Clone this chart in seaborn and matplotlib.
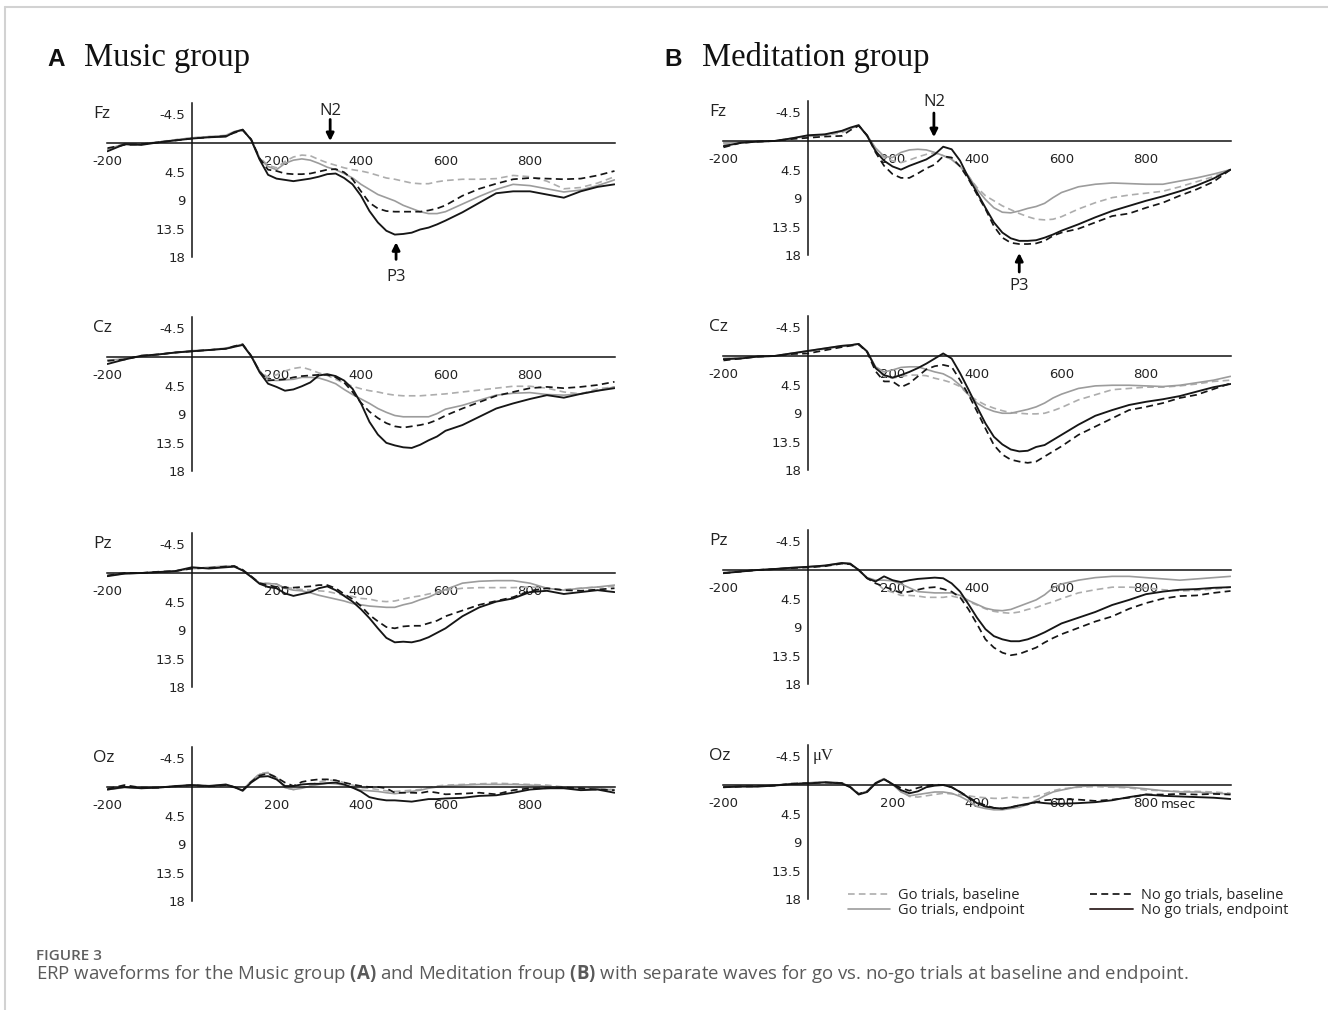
import numpy as np
import pandas as pd
import seaborn as sns
import matplotlib.pyplot as plt
from matplotlib.lines import Line2D

# time points (ms) shared by every waveform
times = [-200, -160, -120, -80, -40, 0, 40, 80, 100, 120, 140, 160,
         180, 200, 220, 240, 260, 280, 300, 320, 340, 360, 380, 400, 420, 440, 460, 480, 500, 520, 540, 560, 580, 600,
         640, 680, 720, 760, 800, 840, 880, 920, 960, 1000]

conds = ["Go trials, baseline", "Go trials, endpoint", "No go trials, baseline", "No go trials, endpoint"]

# ---- Music group (A), microvolts, positive plotted downwards ----
a_fz_gb = [1.0, 0.3, 0.2, -0.2, -0.5, -0.8, -1.0, -1.1, -1.7, -2.0, -0.6, 2.3,
           3.5, 3.9, 2.9, 2.2, 1.9, 2.0, 2.6, 3.1, 3.5, 3.9, 4.2, 4.4, 4.7, 5.1, 5.5, 5.7, 6.0, 6.3, 6.4, 6.4, 6.1, 5.9,
           5.7, 5.7, 5.6, 5.1, 5.3, 6.0, 7.2, 7.0, 6.3, 5.3]
a_fz_ge = [1.0, 0.1, 0.2, -0.1, -0.5, -0.8, -1.0, -1.2, -1.8, -2.1, -0.5, 2.5,
           3.7, 4.2, 3.2, 2.7, 2.5, 2.7, 3.2, 3.8, 4.2, 4.8, 5.5, 6.5, 7.3, 8.1, 8.6, 9.1, 9.8, 10.3, 10.8, 11.1, 11.1, 10.8,
           9.6, 8.4, 7.3, 6.5, 6.7, 7.2, 7.7, 7.4, 6.7, 5.8]
a_fz_nb = [0.8, 0.3, 0.2, -0.1, -0.4, -0.7, -0.9, -1.1, -1.6, -2.0, -0.6, 2.4,
           4.2, 4.4, 4.8, 4.9, 4.9, 4.8, 4.5, 4.2, 4.1, 4.6, 5.7, 7.6, 9.4, 10.3, 10.7, 10.8, 10.8, 10.8, 10.8, 10.6, 10.3, 9.8,
           8.3, 7.2, 6.4, 5.7, 5.5, 5.6, 5.7, 5.6, 5.1, 4.4]
a_fz_ne = [1.3, 0.2, 0.3, -0.1, -0.4, -0.7, -0.9, -1.0, -1.7, -2.1, -0.5, 2.6,
           5.0, 5.6, 5.8, 6.0, 5.8, 5.6, 5.3, 4.9, 4.8, 5.5, 6.5, 8.3, 10.7, 12.5, 13.8, 14.4, 14.3, 14.1, 13.6, 13.3, 12.8, 12.2,
           10.9, 9.4, 7.9, 7.6, 7.6, 8.1, 8.6, 7.6, 6.9, 6.5]

a_cz_gb = [0.6, 0.3, -0.1, -0.4, -0.7, -0.9, -1.1, -1.3, -1.6, -1.9, -0.2, 2.2,
           3.2, 2.8, 2.2, 1.8, 1.6, 2.0, 2.5, 2.9, 3.5, 4.1, 4.6, 5.0, 5.3, 5.5, 5.8, 6.0, 6.1, 6.1, 6.1, 6.0, 5.9, 5.8,
           5.5, 5.2, 4.9, 4.6, 4.6, 4.9, 5.5, 5.8, 5.0, 4.7]
a_cz_ge = [0.5, 0.3, -0.1, -0.4, -0.7, -1.0, -1.1, -1.4, -1.7, -2.0, -0.2, 2.2,
           3.6, 3.7, 3.6, 3.5, 3.2, 3.2, 3.3, 3.7, 4.2, 5.1, 5.9, 6.6, 7.3, 8.1, 8.7, 9.2, 9.4, 9.4, 9.4, 9.4, 8.9, 8.2,
           7.6, 6.8, 6.0, 5.7, 5.6, 5.9, 6.0, 5.8, 5.3, 4.7]
a_cz_nb = [0.6, 0.4, -0.2, -0.4, -0.7, -0.9, -1.1, -1.3, -1.7, -2.0, -0.2, 2.3,
           3.7, 3.6, 3.5, 3.2, 3.0, 2.9, 2.8, 2.8, 3.2, 4.0, 5.5, 7.2, 8.6, 9.6, 10.4, 10.9, 11.1, 10.9, 10.7, 10.4, 9.9, 9.2,
           8.1, 7.1, 6.1, 5.5, 4.9, 4.7, 4.9, 4.7, 4.4, 3.9]
a_cz_ne = [1.1, 0.4, -0.2, -0.4, -0.7, -0.9, -1.1, -1.3, -1.6, -1.9, -0.15, 2.4,
           4.2, 4.7, 5.3, 5.1, 4.6, 4.0, 2.9, 2.7, 3.0, 3.7, 5.0, 7.3, 10.2, 12.2, 13.5, 13.9, 14.2, 14.3, 13.8, 13.1, 12.5, 11.6,
           10.7, 9.4, 8.1, 7.3, 6.6, 6.0, 6.4, 5.8, 5.3, 4.9]

a_pz_gb = [0.4, 0.1, 0.0, -0.1, -0.3, -0.7, -0.8, -1.0, -1.0, -0.4, 0.6, 1.6,
           1.6, 1.8, 2.3, 2.4, 2.6, 2.7, 2.8, 2.9, 3.2, 3.5, 3.7, 4.0, 4.1, 4.4, 4.5, 4.4, 4.1, 3.8, 3.6, 3.3, 3.0, 2.7,
           2.4, 2.3, 2.3, 2.3, 2.2, 2.4, 2.6, 2.4, 2.2, 2.1]
a_pz_ge = [0.4, 0.1, 0.0, -0.1, -0.3, -0.7, -0.9, -1.1, -1.1, -0.4, 0.6, 1.6,
           1.7, 1.7, 2.4, 2.7, 2.8, 3.1, 3.5, 3.8, 4.1, 4.4, 4.8, 5.0, 5.2, 5.3, 5.4, 5.4, 5.0, 4.7, 4.2, 3.8, 3.2, 2.6,
           1.6, 1.3, 1.2, 1.2, 1.6, 2.4, 2.7, 2.4, 2.2, 1.9]
a_pz_nb = [0.4, 0.0, 0.0, -0.2, -0.3, -0.7, -0.8, -1.0, -1.1, -0.5, 0.5, 1.6,
           1.9, 2.2, 2.3, 2.3, 2.2, 2.1, 1.9, 1.9, 2.4, 3.3, 4.1, 5.2, 6.6, 7.6, 8.5, 8.7, 8.4, 8.3, 8.3, 7.9, 7.5, 6.8,
           5.9, 5.0, 4.4, 3.8, 2.8, 2.4, 2.7, 2.8, 2.6, 2.4]
a_pz_ne = [0.5, 0.1, 0.0, -0.15, -0.3, -0.9, -0.7, -0.9, -1.0, -0.4, 0.6, 1.7,
           2.2, 2.4, 3.2, 3.6, 3.3, 3.0, 2.4, 2.1, 2.7, 3.6, 4.5, 5.7, 7.1, 8.7, 10.2, 10.9, 10.8, 10.9, 10.6, 10.1, 9.4, 8.7,
           6.8, 5.4, 4.5, 4.0, 3.0, 2.8, 3.3, 3.0, 2.7, 3.0]

a_oz_gb = [0.4, 0.0, 0.2, 0.1, -0.1, -0.3, -0.2, -0.3, 0.0, 0.5, -0.9, -2.1,
           -2.3, -1.5, 0.1, 0.4, 0.1, -0.3, -0.8, -1.05, -1.05, -0.7, -0.3, 0.1, 0.2, 0.4, 0.6, 0.7, 0.6, 0.5, 0.4, 0.1, -0.15, -0.3,
           -0.4, -0.5, -0.6, -0.5, -0.4, -0.3, 0.0, 0.2, 0.2, 0.4]
a_oz_ge = [0.4, 0.1, 0.2, 0.1, -0.1, -0.3, -0.2, -0.3, 0.1, 0.5, -0.9, -2.0,
           -2.2, -1.4, 0.1, 0.4, 0.2, -0.15, -0.4, -0.6, -0.5, -0.3, 0.1, 0.5, 0.6, 0.7, 0.9, 1.05, 0.9, 0.7, 0.5, 0.2, 0.0, -0.15,
           -0.3, -0.4, -0.4, -0.4, -0.3, -0.1, 0.1, 0.4, 0.2, 0.5]
a_oz_nb = [0.3, -0.3, 0.1, 0.1, -0.1, -0.3, -0.1, -0.3, 0.0, 0.5, -0.8, -1.8,
           -2.1, -1.5, -0.7, -0.15, -0.8, -1.05, -1.2, -1.2, -1.05, -0.7, -0.4, -0.15, 0.0, 0.0, 0.2, 0.9, 0.9, 0.9, 0.95, 0.7, 0.9, 1.15,
           1.05, 0.9, 1.15, 0.5, 0.2, 0.2, 0.1, 0.2, 0.4, 0.5]
a_oz_ne = [0.4, 0.0, 0.2, 0.1, -0.15, -0.3, -0.15, -0.4, 0.0, 0.6, -0.7, -1.6,
           -1.7, -1.2, -0.15, -0.15, -0.4, -0.5, -0.5, -0.6, -0.7, -0.4, 0.1, 0.7, 1.6, 1.9, 2.1, 2.1, 2.2, 2.3, 2.1, 1.9, 1.9, 1.8,
           1.7, 1.4, 1.3, 0.9, 0.4, 0.2, 0.2, 0.5, 0.4, 0.9]

# ---- Meditation group (B) ----
b_fz_gb = [0.5, 0.3, 0.1, 0.0, -0.4, -0.7, -0.9, -1.3, -2.0, -2.4, -0.8, 1.3,
           2.6, 3.1, 3.4, 3.0, 2.5, 2.1, 1.9, 2.3, 2.9, 4.0, 5.6, 7.3, 8.6, 9.4, 10.2, 10.8, 11.4, 11.9, 12.3, 12.4, 12.3, 11.9,
           10.7, 9.7, 8.9, 8.5, 8.2, 7.9, 7.2, 6.4, 5.6, 4.5]
b_fz_ge = [0.3, 0.2, 0.1, 0.0, -0.4, -0.8, -1.0, -1.5, -2.0, -2.4, -0.9, 1.1,
           2.4, 2.6, 1.8, 1.4, 1.3, 1.4, 1.8, 2.3, 2.9, 4.0, 5.5, 7.6, 9.2, 10.5, 11.2, 11.3, 11.0, 10.6, 10.3, 9.8, 8.9, 8.1,
           7.2, 6.8, 6.6, 6.7, 6.8, 6.8, 6.3, 5.8, 5.2, 4.5]
b_fz_nb = [1.0, 0.3, 0.1, 0.0, -0.3, -0.5, -0.7, -0.8, -1.7, -2.4, -0.9, 1.8,
           3.9, 5.2, 5.8, 5.8, 5.1, 4.3, 3.7, 2.4, 2.6, 4.0, 6.0, 8.4, 10.7, 13.4, 15.2, 16.0, 16.2, 16.2, 16.1, 15.7, 14.9, 14.4,
           13.8, 12.8, 11.8, 11.4, 10.5, 9.7, 8.6, 7.6, 6.4, 4.5]
b_fz_ne = [0.8, 0.3, 0.1, 0.0, -0.4, -0.9, -1.05, -1.6, -2.1, -2.5, -0.8, 1.6,
           3.1, 4.0, 4.5, 3.9, 3.4, 2.9, 2.1, 0.9, 1.3, 3.1, 5.8, 8.1, 10.5, 12.8, 14.4, 15.3, 15.7, 15.7, 15.6, 15.2, 14.7, 14.1,
           13.1, 12.0, 11.0, 10.2, 9.4, 8.7, 7.9, 7.0, 5.9, 4.5]

b_cz_gb = [0.4, 0.3, 0.1, 0.0, -0.4, -0.7, -1.1, -1.5, -1.7, -1.9, -0.7, 1.9,
           3.2, 3.5, 3.2, 3.0, 3.0, 3.1, 3.5, 3.8, 4.2, 4.8, 6.1, 7.0, 7.7, 8.2, 8.6, 8.9, 9.0, 9.1, 9.1, 9.0, 8.6, 8.1,
           6.9, 6.1, 5.3, 5.1, 4.9, 4.9, 4.7, 4.4, 4.0, 3.8]
b_cz_ge = [0.4, 0.3, 0.1, 0.0, -0.4, -0.8, -1.2, -1.6, -1.7, -1.9, -0.7, 1.7,
           2.5, 2.2, 1.8, 1.7, 1.7, 2.1, 2.5, 2.8, 3.5, 4.6, 6.1, 7.4, 8.2, 8.7, 9.0, 9.0, 8.7, 8.4, 8.0, 7.4, 6.6, 6.0,
           5.1, 4.7, 4.6, 4.6, 4.7, 4.8, 4.6, 4.2, 3.8, 3.2]
b_cz_nb = [0.7, 0.4, 0.1, 0.0, -0.3, -0.4, -0.9, -1.4, -1.6, -1.8, -0.6, 2.4,
           4.0, 4.0, 4.9, 4.3, 3.2, 2.1, 1.6, 1.4, 1.7, 3.8, 6.1, 8.7, 11.4, 14.0, 15.5, 16.3, 16.6, 16.8, 16.6, 15.8, 15.0, 14.2,
           12.4, 11.1, 9.8, 8.5, 8.0, 7.4, 6.6, 6.1, 5.2, 4.3]
b_cz_ne = [0.5, 0.4, 0.1, 0.0, -0.4, -0.8, -1.2, -1.6, -1.7, -1.9, -0.7, 1.9,
           3.0, 3.4, 3.0, 2.5, 1.9, 1.2, 0.4, -0.4, 0.4, 2.7, 5.3, 8.0, 10.6, 12.7, 13.9, 14.7, 15.0, 14.9, 14.3, 14.0, 13.2, 12.4,
           10.8, 9.4, 8.5, 7.7, 7.2, 6.8, 6.3, 5.6, 4.9, 4.4]

b_pz_gb = [0.5, 0.25, 0.0, -0.1, -0.3, -0.5, -0.6, -1.0, -0.9, 0.0, 1.2, 1.9,
           3.1, 3.5, 4.0, 4.0, 4.1, 4.3, 4.3, 4.3, 4.1, 4.4, 5.0, 5.5, 6.1, 6.5, 6.7, 6.8, 6.6, 6.2, 5.9, 5.4, 5.0, 4.5,
           3.6, 3.1, 2.7, 2.7, 2.8, 3.1, 3.3, 3.2, 3.0, 2.7]
b_pz_ge = [0.4, 0.2, 0.0, -0.15, -0.35, -0.5, -0.7, -1.1, -1.0, 0.0, 1.2, 1.6,
           1.6, 1.7, 2.2, 2.8, 3.4, 3.5, 3.6, 3.6, 3.6, 4.0, 4.8, 5.4, 6.0, 6.3, 6.4, 6.2, 5.7, 5.2, 4.7, 3.9, 2.8, 2.2,
           1.6, 1.2, 1.0, 1.0, 1.2, 1.4, 1.6, 1.4, 1.2, 1.0]
b_pz_nb = [0.5, 0.25, 0.0, -0.15, -0.3, -0.4, -0.6, -1.0, -0.9, 0.0, 1.3, 2.1,
           2.6, 3.1, 3.6, 3.4, 3.1, 2.8, 2.7, 3.0, 3.4, 4.3, 6.2, 8.5, 10.9, 12.2, 13.0, 13.4, 13.2, 12.7, 12.2, 11.4, 10.7, 10.1,
           9.1, 8.1, 7.3, 6.1, 5.2, 4.5, 4.1, 4.0, 3.6, 3.3]
b_pz_ne = [0.5, 0.25, 0.0, -0.15, -0.35, -0.5, -0.7, -1.1, -1.0, 0.0, 1.3, 1.8,
           1.0, 1.6, 1.9, 1.6, 1.4, 1.3, 1.2, 1.3, 2.1, 3.4, 5.4, 7.5, 9.3, 10.4, 10.9, 11.2, 11.2, 10.9, 10.4, 9.8, 9.1, 8.4,
           7.5, 6.6, 5.5, 4.7, 3.8, 3.4, 3.1, 3.0, 2.8, 2.7]

b_oz_gb = [0.3, 0.2, 0.2, 0.05, -0.2, -0.35, -0.5, -0.35, 0.3, 1.4, 1.0, -0.4,
           -1.0, -0.1, 0.9, 1.8, 1.9, 1.7, 1.5, 1.3, 1.4, 1.5, 1.7, 1.9, 2.0, 2.1, 2.1, 1.9, 2.0, 2.0, 1.8, 1.4, 0.9, 0.6,
           0.35, 0.25, 0.35, 0.45, 0.8, 0.9, 1.0, 1.0, 1.1, 1.3]
b_oz_ge = [0.3, 0.2, 0.2, 0.05, -0.2, -0.3, -0.5, -0.3, 0.3, 1.4, 1.0, -0.35,
           -1.0, -0.1, 1.1, 1.7, 1.5, 1.3, 1.1, 1.1, 1.3, 1.8, 2.5, 3.4, 3.7, 3.9, 3.9, 3.7, 3.5, 3.05, 2.4, 1.7, 1.1, 0.8,
           0.25, 0.1, 0.25, 0.35, 0.6, 0.9, 1.1, 1.1, 1.3, 1.4]
b_oz_nb = [0.35, 0.25, 0.2, 0.1, -0.2, -0.3, -0.4, -0.3, 0.3, 1.4, 1.0, -0.3,
           -0.9, -0.15, 0.45, 0.9, 0.45, 0.1, -0.05, 0.0, 0.35, 1.1, 1.9, 2.7, 3.2, 3.6, 3.7, 3.5, 3.2, 3.05, 2.7, 2.4, 2.3, 2.2,
           2.3, 2.5, 2.3, 2.0, 1.5, 1.5, 1.4, 1.5, 1.4, 1.5]
b_oz_ne = [0.35, 0.25, 0.25, 0.1, -0.15, -0.25, -0.4, -0.25, 0.35, 1.5, 1.1, -0.25,
           -0.9, -0.15, 0.8, 1.3, 1.0, 0.35, 0.1, 0.0, 0.35, 1.1, 2.0, 2.85, 3.4, 3.6, 3.7, 3.5, 3.2, 2.95, 2.7, 2.85, 2.95, 2.95,
           2.85, 2.7, 2.4, 1.9, 1.5, 1.7, 1.8, 1.9, 2.0, 2.2]

yticks = [-4.5, 4.5, 9, 13.5, 18]
ytick_labels = ["-4.5", "4.5", "9", "13.5", "18"]
xticks = [-200, 200, 400, 600, 800]
xtick_labels = ["-200", "200", "400", "600", "800"]

colors = dict(zip(conds, ["#adadad", "#9c9c9c", "#161616", "#161616"]))
dashes = dict(zip(conds, [(4, 2.5), "", (4, 2.5), ""]))
widths = dict(zip(conds, [1.2, 1.2, 1.25, 1.35]))

sns.set_style("white")
plt.rcParams["font.family"] = ["DejaVu Sans"]
plt.rcParams["mathtext.fontset"] = "custom"
plt.rcParams["mathtext.rm"] = "Open Sans"
plt.rcParams["mathtext.bf"] = "Open Sans:bold"

W, H = 1328, 1010
fig = plt.figure(figsize=(W / 100, H / 100), dpi=100)
PXMS = 0.4225   # px per ms
PXUV = 6.36     # px per microvolt
YTOP = -6.3


def make_ax(t0_px, zero_px):
    left = t0_px - 200 * PXMS
    top = zero_px + YTOP * PXUV
    bottom = zero_px + 18 * PXUV
    return fig.add_axes([left / W, 1 - bottom / H, 1200 * PXMS / W, (bottom - top) / H])


def draw_panel(ax, series, name):
    df = pd.concat([pd.DataFrame({"time": times, "uv": vals, "cond": c}) for c, vals in zip(conds, series)])
    sns.lineplot(data=df, x="time", y="uv", hue="cond", style="cond", size="cond",
                 hue_order=conds, style_order=conds, size_order=conds,
                 palette=colors, dashes=dashes, sizes=widths,
                 estimator=None, sort=False, legend=False, ax=ax)
    ax.set_xlim(-200, 1000)
    ax.set_ylim(18, YTOP)
    ax.patch.set_alpha(0)
    for s in ["top", "right"]:
        ax.spines[s].set_visible(False)
    ax.spines["left"].set_position(("data", 0))
    ax.spines["bottom"].set_position(("data", 0))
    for s in ["left", "bottom"]:
        ax.spines[s].set_color("#111111")
        ax.spines[s].set_linewidth(1.1)
    ax.set_xticks(xticks)
    ax.set_xticklabels(xtick_labels)
    ax.set_yticks(yticks)
    ax.set_yticklabels(ytick_labels)
    ax.tick_params(axis="x", length=0, pad=8.5, labelsize=9.5, colors="#222222")
    ax.tick_params(axis="y", length=3, width=1, pad=2, labelsize=9.5, colors="#222222")
    ax.set_xlabel("")
    ax.set_ylabel("")
    ax.annotate(name, xy=(0, -4.5), xycoords=("axes fraction", "data"), xytext=(-14, 0),
                textcoords="offset pixels", ha="left", va="center", fontsize=12.5,
                family="Open Sans", color="#222222")


music = [("Fz", [a_fz_gb, a_fz_ge, a_fz_nb, a_fz_ne], 143),
         ("Cz", [a_cz_gb, a_cz_ge, a_cz_nb, a_cz_ne], 357),
         ("Pz", [a_pz_gb, a_pz_ge, a_pz_nb, a_pz_ne], 573),
         ("Oz", [a_oz_gb, a_oz_ge, a_oz_nb, a_oz_ne], 787)]
medit = [("Fz", [b_fz_gb, b_fz_ge, b_fz_nb, b_fz_ne], 141),
         ("Cz", [b_cz_gb, b_cz_ge, b_cz_nb, b_cz_ne], 356),
         ("Pz", [b_pz_gb, b_pz_ge, b_pz_nb, b_pz_ne], 570),
         ("Oz", [b_oz_gb, b_oz_ge, b_oz_nb, b_oz_ne], 785)]

axes_a, axes_b = [], []
for name, series, z in music:
    ax = make_ax(192, z)
    draw_panel(ax, series, name)
    axes_a.append(ax)
for name, series, z in medit:
    ax = make_ax(808, z)
    draw_panel(ax, series, name)
    axes_b.append(ax)


def arrow(ax, label, t, tip, tail, text_y):
    ax.annotate("", xy=(t, tip), xytext=(t, tail), annotation_clip=False,
                arrowprops=dict(arrowstyle="-|>", lw=2.0, color="black", mutation_scale=11,
                                shrinkA=0, shrinkB=0))
    ax.text(t, text_y, label, ha="center", va="center", fontsize=12, family="Open Sans",
            color="#222222", clip_on=False)


arrow(axes_a[0], "N2", 327, -0.3, -3.7, -5.1)
arrow(axes_a[0], "P3", 483, 15.6, 18.3, 21.0)
arrow(axes_b[0], "N2", 298, -0.6, -4.4, -6.1)
arrow(axes_b[0], "P3", 500, 17.6, 20.6, 22.8)

# units on the last Meditation panel
axes_b[3].annotate("\u03bcV", xy=(0, -4.5), xytext=(5, 0), textcoords="offset pixels",
                   ha="left", va="center", fontsize=12, family="Liberation Serif", color="#222222")
axes_b[3].annotate("msec", xy=(800, 0), xytext=(15, -19), textcoords="offset pixels",
                   ha="left", va="center", fontsize=9.5, color="#222222")

handles = [Line2D([], [], color=colors[c], lw=widths[c],
                  linestyle=(0, dashes[c]) if dashes[c] else "-") for c in conds]
handles[3].set_color("#3a2b2b")
axes_b[3].legend(handles, conds, ncol=2, loc="upper left",
                 bbox_to_anchor=(848 / W, 1 - 888 / H), bbox_transform=fig.transFigure,
                 frameon=False, borderpad=0, borderaxespad=0, handlelength=2.9,
                 handletextpad=0.55, columnspacing=4.5, labelspacing=0.0,
                 prop={"family": "Open Sans", "size": 10.5})

# group titles
fig.text(47 / W, 1 - 66 / H, "A", fontsize=17.5, fontweight="bold", family="Liberation Sans",
         va="baseline", color="#111111")
fig.text(84 / W, 1 - 66 / H, "Music group", fontsize=23.5, family="Liberation Serif", va="baseline", color="#111111")
fig.text(664 / W, 1 - 66 / H, "B", fontsize=17.5, fontweight="bold", family="Liberation Sans",
         va="baseline", color="#111111")
fig.text(702 / W, 1 - 66 / H, "Meditation group", fontsize=23.5, family="Liberation Serif", va="baseline", color="#111111")

# caption
fig.text(36 / W, 1 - 956 / H, "FIGURE 3", fontsize=11, fontweight="semibold", family="Open Sans",
         color="#5f5f5f", va="center")
fig.text(36 / W, 1 - 974 / H,
         r"ERP waveforms for the Music group $\mathbf{(A)}$ and Meditation froup $\mathbf{(B)}$ "
         "with separate waves for go vs. no-go trials at baseline and endpoint.",
         fontsize=13.4, family="Open Sans", color="#5a5a5a", va="center")

# card border
fig.add_artist(Line2D([5 / W, 1], [1 - 7 / H, 1 - 7 / H], transform=fig.transFigure, color="#d2d2d2", lw=1.5))
fig.add_artist(Line2D([5 / W, 5 / W], [0, 1 - 7 / H], transform=fig.transFigure, color="#d2d2d2", lw=1.5))

fig.savefig("out.png", dpi=100)
